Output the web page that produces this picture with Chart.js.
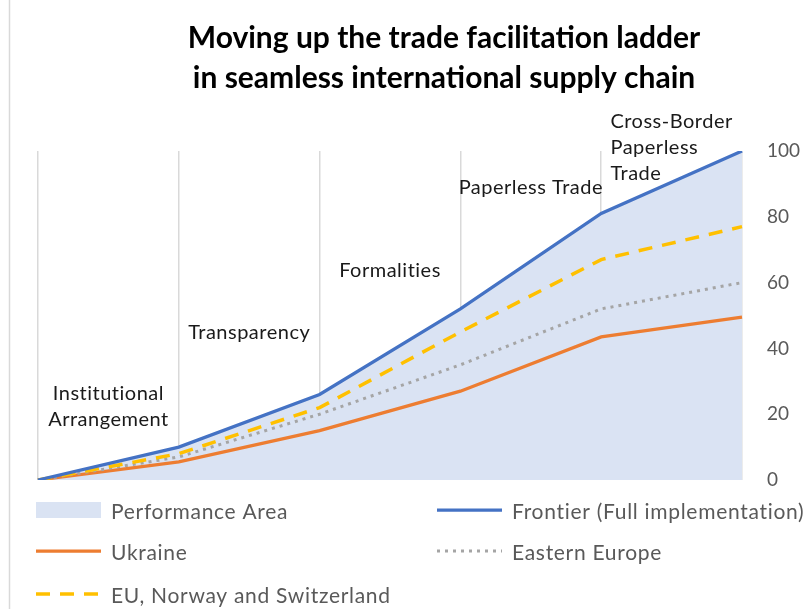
<!DOCTYPE html>
<html>
<head>
<meta charset="utf-8">
<script src="https://cdn.jsdelivr.net/npm/chart.js@4/dist/chart.umd.min.js"></script>
<style>
  body { margin: 0; background: #fff; }
  #wrap { width: 809px; height: 609px; position: relative; }
</style>
</head>
<body>
<div id="wrap"><canvas id="ladder-chart"></canvas></div>
<script>
const steps = ["0", "1", "2", "3", "4", "5"]
const stageNames = [["Institutional", "Arrangement"], ["Transparency"], ["Formalities"], ["Paperless Trade"], ["Cross-Border", "Paperless", "Trade"]]
const frontier = [0, 10, 26, 52, 81, 100]
const euNorwaySwiss = [0, 8, 22, 45, 67, 77]
const easternEurope = [0, 7, 20, 35, 52, 60]
const ukraine = [0, 5.5, 15, 27, 43.5, 49.5]
const yTicks = [0, 20, 40, 60, 80, 100]

const titleLines = ["Moving up the trade facilitation ladder", "in seamless international supply chain"]

const chartEl = document.getElementById("ladder-chart")

// title, stage labels, left border and legend drawn by hand
const decorations = {
    id: "decorations",
    afterDraw(chart) {
        const ctx = chart.ctx
        const x = chart.scales.x
        const y = chart.scales.y
        ctx.save()

        ctx.strokeStyle = "#D9D9D9"
        ctx.lineWidth = 1.5
        ctx.beginPath()
        ctx.moveTo(9.5, 0)
        ctx.lineTo(9.5, 609)
        ctx.stroke()

        ctx.fillStyle = "#000"
        ctx.font = "bold 30px Lato"
        ctx.textAlign = "center"
        ctx.textBaseline = "middle"
        ctx.fillText(titleLines[0], 444, 38)
        ctx.fillText(titleLines[1], 444, 78)

        // stage names sit between the step points
        const anchorVals = [26.4, 44.7, 63.8, 88.8, 109]
        ctx.font = "20px Lato"
        ctx.letterSpacing = "0.5px"
        ctx.fillStyle = "#1a1a1a"
        stageNames.forEach((lines, i) => {
            const mid = (x.getPixelForValue(i) + x.getPixelForValue(i + 1)) / 2
            const top = y.getPixelForValue(anchorVals[i])
            let left = null
            if (i === stageNames.length - 1) {
                const w = Math.max(...lines.map(l => ctx.measureText(l).width))
                left = mid - w / 2
            }
            lines.forEach((l, j) => {
                if (left !== null) {
                    ctx.textAlign = "left"
                    ctx.fillText(l, left, top + j * 26)
                } else {
                    ctx.textAlign = "center"
                    ctx.fillText(l, mid, top + j * 26)
                }
            })
        })

        // legend, two columns
        const cols = [36, 437]
        const rows = [510, 551, 594]
        ctx.font = "21px Lato"
        ctx.letterSpacing = "0.7px"
        ctx.textAlign = "left"
        chart.data.datasets.forEach((ds, i) => {
            const cx = cols[i % 2]
            const cy = rows[Math.floor(i / 2)]
            if (ds.fill) {
                ctx.fillStyle = ds.backgroundColor
                ctx.fillRect(cx, cy - 8, 65, 16)
            } else {
                ctx.strokeStyle = ds.borderColor
                ctx.lineWidth = ds.borderWidth
                ctx.setLineDash(ds.borderDash || [])
                ctx.beginPath()
                ctx.moveTo(cx, cy)
                ctx.lineTo(cx + 65, cy)
                ctx.stroke()
                ctx.setLineDash([])
            }
            ctx.fillStyle = "#595959"
            ctx.fillText(ds.label, cx + 75, cy + 2)
        })
        ctx.restore()
    }
}

new Chart(chartEl, {
    type: "line",
    data: {
        labels: steps,
        datasets: [{
            label: "Performance Area",
            data: frontier,
            fill: "origin",
            backgroundColor: "#DAE3F3",
            borderWidth: 0,
            pointRadius: 0,
            order: 10},
            {
            label: "Frontier (Full implementation)",
            data: frontier,
            borderColor: "#4472C4",
            borderWidth: 3.25,
            pointRadius: 0,
            order: 0},
            {
            label: "Ukraine",
            data: ukraine,
            borderColor: "#ED7D31",
            borderWidth: 3.25,
            pointRadius: 0,
            order: 3},
            {
            label: "Eastern Europe",
            data: easternEurope,
            borderColor: "#A5A5A5",
            borderWidth: 3,
            borderDash: [3, 5],
            pointRadius: 0,
            order: 2},
            {
            label: "EU, Norway and Switzerland",
            data: euNorwaySwiss,
            borderColor: "#FFC000",
            borderWidth: 3.5,
            borderDash: [14, 10],
            pointRadius: 0,
            order: 1}
        ]},
    options: {
        responsive: true,
        maintainAspectRatio: false,
        animation: false,
        layout: {
            padding: { left: 38, right: 9, top: 151, bottom: 129 }
        },
        plugins: {
            legend: { display: false },
            tooltip: { enabled: false }
        },
        scales: {
            x: {
                offset: false,
                ticks: { display: false },
                border: { display: false },
                grid: { color: "#D9D9D9", lineWidth: 1.5, drawTicks: false }
            },
            y: {
                position: "right",
                min: 0,
                max: 100,
                afterBuildTicks: axis => { axis.ticks = yTicks.map(v => ({ value: v })) },
                afterFit: axis => { axis.width = 58 },
                ticks: { color: "#595959", font: { family: "Lato", size: 19 }, padding: 25 },
                border: { display: false },
                grid: { display: false, drawTicks: false }
            }
        }
    },
    plugins: [decorations]
})
</script>
</body>
</html>
